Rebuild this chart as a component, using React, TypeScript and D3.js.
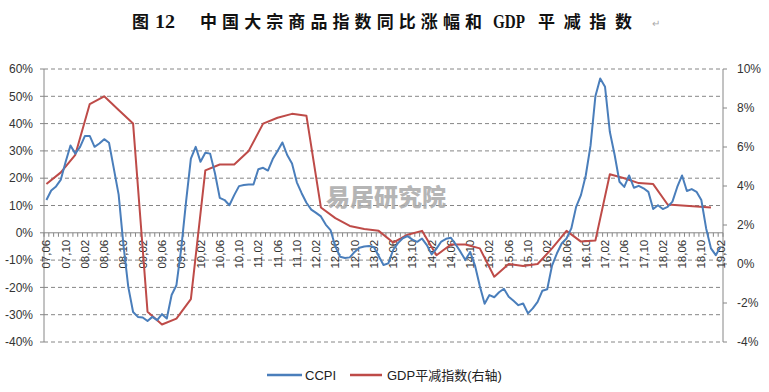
import React from 'react';
import * as d3 from 'd3';

// monthly categories 2007.06 - 2019.02
const startYear = 2007;
const startMonth = 6;
const monthCount = 141;
const months: string[] = d3.range(monthCount).map(i => {
  const m = startMonth - 1 + i;
  const y = startYear + Math.floor(m / 12);
  return `${String(y % 100).padStart(2, '0')},${String((m % 12) + 1).padStart(2, '0')}`;
});

const tickLabels = [
  '07,06', '07,10', '08,02', '08,06', '08,10', '09,02', '09,06', '09,10', '10,02',
  '10,06', '10,10', '11,02', '11,06', '11,10', '12,02', '12,06', '12,10', '13,02',
  '13,06', '13,10', '14,02', '14,06', '14,10', '15,02', '15,06', '15,10', '16,02',
  '16,06', '16,10', '17,02', '17,06', '17,10', '18,02', '18,06', '18,10', '19,02',
];

// CCPI yoy, %, monthly
const ccpi = [
  12, 15.5, 17, 19.5, 26, 32, 29, 31.5, 35.5, 35.5, 31.5, 32.7, 34.3, 33, 23.5, 14,
  -4.5, -19.8, -29, -30.8, -31, -32.3, -30.8, -32, -29.8, -31.4, -22.8, -19.2, -5.7, 11.4,
  27.2, 31.5, 26, 29.3, 29, 21.8, 12.8, 12, 10.1, 13.8, 17.1, 17.5, 17.7, 17.7, 23.3,
  23.8, 22.8, 27, 30, 33.1, 28.5, 25.4, 18.5, 14.5, 11, 8.5, 7.3, 6, 3, 1,
  -5, -8.8, -9.2, -9, -7, -5.5, -5, -4.8, -5.2, -8.5, -11.8, -11.2, -6.3, -3.8, -2,
  -1.2, -2.5, -3.3, -2.1, -4.5, -7.9, -5.8, -3.2, -2.2, -1.8, -4.3, -7, -10, -7, -12,
  -19.5, -26, -22.8, -23.6, -21.8, -20.5, -23.4, -24.9, -26.5, -25.9, -29.5, -27.7, -25.3, -21.2, -20.7,
  -12, -7.6, -3.9, -2.1, 1.6, 9.5, 13.8, 21, 32, 50, 56.5, 53.5, 37, 28.5, 18.7,
  16.8, 21, 16.5, 17.2, 16.3, 15, 8.7, 10.1, 8.7, 9.5, 11.4, 16.8, 21, 15.3, 16,
  15, 12, 1.6, -5.7, -8.2, -5.1,
];

// GDP deflator yoy, %, quarterly (07Q2 - 18Q4), right axis
const gdpDeflator = [
  4.1, 4.7, 5.6, 8.2, 8.6, 7.9, 7.2, -2.45, -3.1, -2.8, -1.8, 4.8, 5.1, 5.1, 5.8, 7.2,
  7.5, 7.7, 7.6, 2.9, 2.35, 1.95, 1.8, 1.7, 1.1, 1.5, 1.7, 0.45, 1.0, 1.0, 0.8, -0.65,
  0.0, -0.1, 0.0, 0.8, 1.7, 1.15, 1.2, 4.6, 4.4, 4.15, 4.1, 3.05, 3.0, 2.95, 2.9,
];

const leftTicks = [60, 50, 40, 30, 20, 10, 0, -10, -20, -30, -40];
const rightTicks = [10, 8, 6, 4, 2, 0, -2, -4];

const W = 769;
const H = 392;
const plot = { left: 44, right: 723, top: 69, bottom: 342 };

const BLUE = '#4a7ebb';
const RED = '#be4b48';
const AXIS = '#868686';

export default function App() {
  const x = d3.scaleBand<string>().domain(months).range([plot.left, plot.right]).padding(0);
  const cx = (i: number) => (x(months[i]) ?? 0) + x.bandwidth() / 2;
  const yL = d3.scaleLinear().domain([-40, 60]).range([plot.bottom, plot.top]);
  const yR = d3.scaleLinear().domain([-4, 10]).range([plot.bottom, plot.top]);
  const y0 = yL(0);

  const ccpiLine = d3.line<number>().x((_, i) => cx(i)).y(d => yL(d))(ccpi) ?? '';
  const gdpLine = d3.line<number>().x((_, q) => cx(q * 3)).y(d => yR(d))(gdpDeflator) ?? '';

  const font = 'Arial, "Liberation Sans", "Noto Sans CJK SC", sans-serif';
  const titleStyle = { fontFamily: '"Noto Sans CJK SC", sans-serif', fontSize: 17, fontWeight: 700, fill: '#111' };
  const titleSerif = { fontFamily: '"Liberation Serif", "DejaVu Serif", serif', fontSize: 18, fontWeight: 700, fill: '#111' };

  return (
    <svg width={W} height={H} style={{ position: 'absolute', left: 0, top: 0, background: '#fff' }}>
      {/* title */}
      <text x={132} y={28} style={titleStyle}>图</text>
      <text x={155} y={28} textLength={20} lengthAdjust="spacingAndGlyphs" style={titleSerif}>12</text>
      <text x={200} y={28} textLength={282} lengthAdjust="spacing" style={titleStyle}>中国大宗商品指数同比涨幅和</text>
      <text x={493} y={28} textLength={32} lengthAdjust="spacingAndGlyphs" style={titleSerif}>GDP</text>
      <text x={538} y={28} textLength={94} lengthAdjust="spacing" style={titleStyle}>平减指数</text>
      <text x={652} y={27} style={{ fontFamily: font, fontSize: 10, fill: '#aaa' }}>↵</text>

      {/* gridlines */}
      {leftTicks.filter(t => t !== 0).map(t => (
        <line key={t} x1={plot.left} x2={plot.right} y1={yL(t)} y2={yL(t)}
          stroke={AXIS} strokeWidth={1} strokeDasharray="4,3" />
      ))}

      {/* left axis */}
      <line x1={plot.left} x2={plot.left} y1={plot.top} y2={plot.bottom} stroke={AXIS} />
      {leftTicks.map(t => (
        <g key={t}>
          <line x1={plot.left - 4} x2={plot.left} y1={yL(t)} y2={yL(t)} stroke={AXIS} />
          <text x={33} y={yL(t)} dy="0.35em" textAnchor="end"
            style={{ fontFamily: font, fontSize: 12, fill: '#333' }}>{t}%</text>
        </g>
      ))}

      {/* right axis */}
      <line x1={plot.right} x2={plot.right} y1={plot.top} y2={plot.bottom} stroke={AXIS} />
      {rightTicks.map(t => (
        <g key={t}>
          <line x1={plot.right} x2={plot.right + 4} y1={yR(t)} y2={yR(t)} stroke={AXIS} />
          <text x={737} y={yR(t)} dy="0.35em" textAnchor="start"
            style={{ fontFamily: font, fontSize: 12, fill: '#333' }}>{t}%</text>
        </g>
      ))}

      {/* x axis at 0% */}
      <line x1={plot.left} x2={plot.right} y1={y0} y2={y0} stroke={AXIS} />
      {d3.range(monthCount + 1).map(i => {
        const xx = plot.left + i * x.bandwidth();
        return <line key={i} x1={xx} x2={xx} y1={y0} y2={y0 + 4} stroke={AXIS} />;
      })}
      {tickLabels.map(l => {
        const i = months.indexOf(l);
        return (
          <text key={l} transform={`translate(${cx(i)},${y0 + 7}) rotate(-90)`} dy="0.35em" textAnchor="end"
            style={{ fontFamily: font, fontSize: 11.5, fill: '#333' }}>{l}</text>
        );
      })}

      {/* watermark */}
      <text x={386} y={206} textAnchor="middle"
        style={{ fontFamily: '"Noto Sans CJK SC", sans-serif', fontSize: 24, fontWeight: 900, fill: '#a9a9a9', opacity: 0.85 }}>
        易居研究院
      </text>

      {/* series */}
      <path d={gdpLine} fill="none" stroke={RED} strokeWidth={2} strokeLinejoin="round" />
      <path d={ccpiLine} fill="none" stroke={BLUE} strokeWidth={2} strokeLinejoin="round" />

      {/* legend */}
      <line x1={267} x2={302} y1={375} y2={375} stroke={BLUE} strokeWidth={2.5} />
      <text x={305} y={375} dy="0.35em" style={{ fontFamily: font, fontSize: 13, fill: '#222' }}>CCPI</text>
      <line x1={350} x2={382} y1={375} y2={375} stroke={RED} strokeWidth={2.5} />
      <text x={387} y={375} dy="0.35em" style={{ fontFamily: font, fontSize: 13, fill: '#222' }}>GDP平减指数(右轴)</text>
    </svg>
  );
}
